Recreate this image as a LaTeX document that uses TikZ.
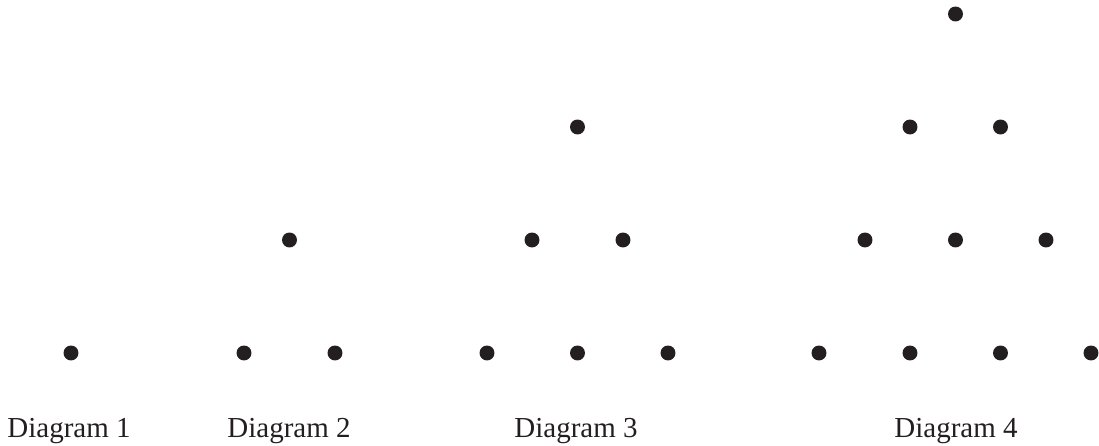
\documentclass[tikz,border=0pt]{standalone}
\usepackage{fontspec}
\setmainfont{Liberation Serif}
\usepackage{tikz}
\usepackage{xcolor}
\definecolor{dotink}{HTML}{231F20}
\tikzset{
  spot/.style={circle, fill=dotink, draw=none, minimum size=6.2pt, inner sep=0pt},
  caption/.style={anchor=base, text=dotink, font=\fontsize{12}{14}\selectfont, inner sep=0pt}
}

\begin{document}
\begin{tikzpicture}[x=0.414pt, y=-0.414pt]
  \useasboundingbox (0,0) rectangle (1099,446);

  % diagram 1
  \node[spot] (a1) at (71,353) {};
  \node[caption] (capa) at (69,438) {Diagram 1};

  % diagram 2
  \node[spot] (b1) at (244,353) {};
  \node[spot] (b2) at (335,353) {};
  \node[spot] (b3) at (289.5,240) {};
  \node[caption] (capb) at (289,438) {Diagram 2};

  % diagram 3
  \node[spot] (c1) at (487,353) {};
  \node[spot] (c2) at (577.5,353) {};
  \node[spot] (c3) at (668,353) {};
  \node[spot] (c4) at (532,240) {};
  \node[spot] (c5) at (623,240) {};
  \node[spot] (c6) at (577.5,127) {};
  \node[caption] (capc) at (576,438) {Diagram 3};

  % diagram 4
  \node[spot] (d1) at (819,353) {};
  \node[spot] (d2) at (910,353) {};
  \node[spot] (d3) at (1000.5,353) {};
  \node[spot] (d4) at (1091,353) {};
  \node[spot] (d5) at (865,240) {};
  \node[spot] (d6) at (955.5,240) {};
  \node[spot] (d7) at (1046,240) {};
  \node[spot] (d8) at (910,127) {};
  \node[spot] (d9) at (1000.5,127) {};
  \node[spot] (d10) at (955.5,14) {};
  \node[caption] (capd) at (956,438) {Diagram 4};
\end{tikzpicture}
\end{document}
